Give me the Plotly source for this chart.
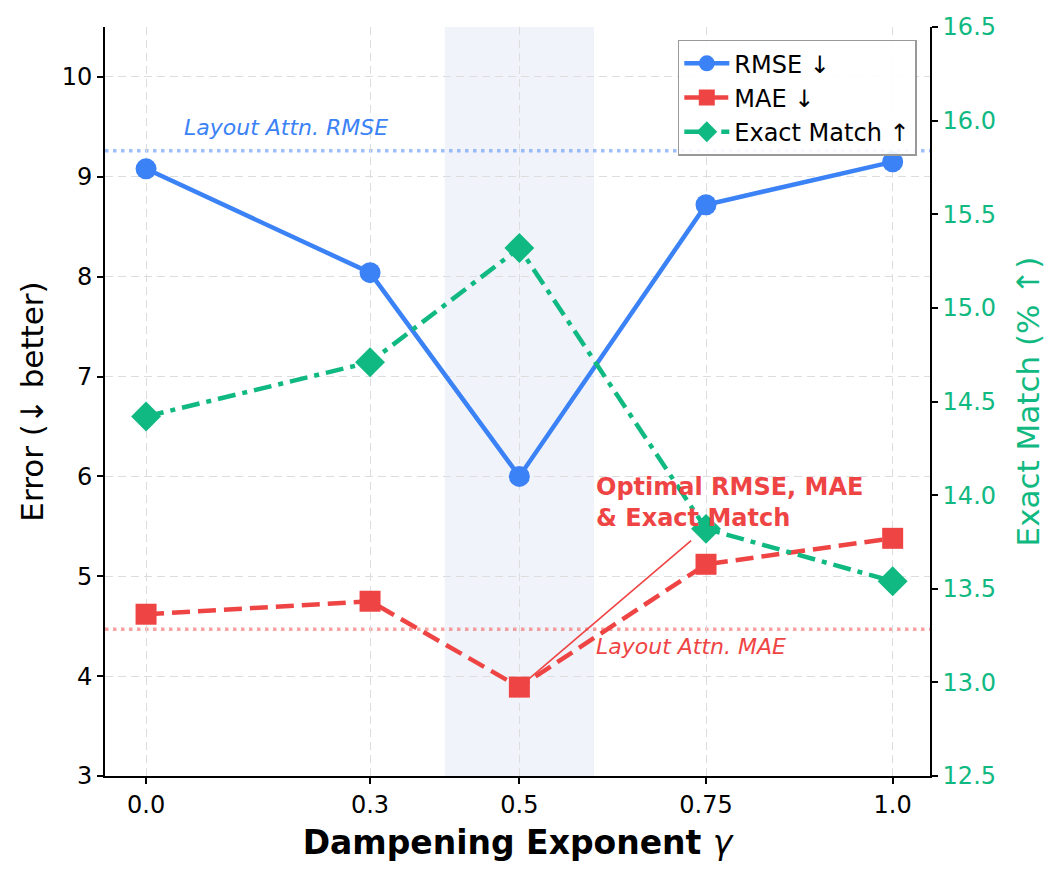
import plotly.graph_objects as go

gamma = [0.0, 0.3, 0.5, 0.75, 1.0]
gamma_labels = ["0.0", "0.3", "0.5", "0.75", "1.0"]
rmse = [9.08, 8.04, 6.00, 8.72, 9.15]
mae = [4.62, 4.75, 3.89, 5.12, 5.38]
exact_match = [14.42, 14.71, 15.32, 13.82, 13.54]
layout_rmse = 9.26
layout_mae = 4.47
left_ticks = [3, 4, 5, 6, 7, 8, 9, 10]
right_ticks = [12.5, 13.0, 13.5, 14.0, 14.5, 15.0, 15.5, 16.0, 16.5]

BLUE = "#3b82f6"
RED = "#ef4444"
GREEN = "#10b981"
FONT = "DejaVu Sans"
GRID = "#dddddd"

fig = go.Figure()

fig.add_trace(go.Scatter(
    x=gamma, y=rmse, name="RMSE ↓", mode="lines+markers",
    line=dict(color=BLUE, width=4.5),
    marker=dict(symbol="circle", size=21, color=BLUE),
))
fig.add_trace(go.Scatter(
    x=gamma, y=mae, name="MAE ↓", mode="lines+markers",
    line=dict(color=RED, width=4.5, dash="18px,8px"),
    marker=dict(symbol="square", size=21, color=RED),
))
fig.add_trace(go.Scatter(
    x=gamma, y=exact_match, name="Exact Match ↑", mode="lines+markers",
    line=dict(color=GREEN, width=4.5, dash="18px,7px,5px,7px"),
    marker=dict(symbol="diamond", size=23, color=GREEN),
    yaxis="y2",
))

# shaded optimal region
fig.add_vrect(x0=0.4, x1=0.6, fillcolor="#f0f4fa", line_width=0, layer="below")

# reference lines
fig.add_shape(type="line", xref="paper", x0=0, x1=1, yref="y", y0=layout_rmse, y1=layout_rmse,
              line=dict(color="rgba(59,130,246,0.5)", width=3.5, dash="3.5px,4.5px"), layer="below")
fig.add_shape(type="line", xref="paper", x0=0, x1=1, yref="y", y0=layout_mae, y1=layout_mae,
              line=dict(color="rgba(239,68,68,0.5)", width=3.5, dash="3.5px,4.5px"), layer="below")

fig.add_annotation(x=0.048, y=layout_rmse + 0.23, xref="x", yref="y", text="<i>Layout Attn. RMSE</i>",
                   showarrow=False, xanchor="left", yanchor="middle",
                   font=dict(family=FONT, size=22, color=BLUE))
fig.add_annotation(x=0.6, y=layout_mae - 0.17, xref="x", yref="y", text="<i>Layout Attn. MAE</i>",
                   showarrow=False, xanchor="left", yanchor="middle",
                   font=dict(family=FONT, size=22, color=RED))

# arrow to optimal point
fig.add_annotation(x=gamma[2], y=mae[2], xref="x", yref="y",
                   ax=0.732, ay=5.37, axref="x", ayref="y",
                   text="", showarrow=True, arrowhead=0, arrowwidth=1.6, arrowcolor=RED,
                   standoff=11)
fig.add_annotation(x=0.6, y=5.74, xref="x", yref="y",
                   text="<b>Optimal RMSE, MAE<br>& Exact Match</b>",
                   showarrow=False, xanchor="left", yanchor="middle", align="left",
                   font=dict(family=FONT, size=24, color=RED))

fig.update_layout(
    width=1064, height=881,
    margin=dict(l=105, r=134, t=27, b=105),
    paper_bgcolor="white", plot_bgcolor="white",
    font=dict(family=FONT, size=24, color="black"),
    showlegend=True,
    legend=dict(x=0.984, y=0.983, xanchor="right", yanchor="top",
                bgcolor="rgba(255,255,255,0.9)", bordercolor="#999999", borderwidth=1.5,
                font=dict(family=FONT, size=24), tracegroupgap=0, itemwidth=45),
    xaxis=dict(
        range=[-0.055, 1.05], tickmode="array", tickvals=gamma, ticktext=gamma_labels,
        showgrid=True, gridcolor=GRID, griddash="8px,5px", gridwidth=1.3,
        showline=True, linecolor="black", linewidth=1.6, mirror=False,
        ticks="outside", ticklen=6, tickcolor="black", tickwidth=1.6,
        tickfont=dict(size=24), zeroline=False,
        title=dict(text="<b>Dampening Exponent </b><i>γ</i>", font=dict(size=33), standoff=13),
    ),
    yaxis=dict(
        range=[3, 10.5], tickmode="array", tickvals=left_ticks,
        showgrid=True, gridcolor=GRID, griddash="8px,5px", gridwidth=1.3,
        showline=True, linecolor="black", linewidth=1.6,
        ticks="outside", ticklen=6, tickcolor="black", tickwidth=1.6,
        tickfont=dict(size=24), zeroline=False,
        title=dict(text="Error (↓ better)", font=dict(size=31), standoff=9),
    ),
    yaxis2=dict(
        range=[12.5, 16.5], overlaying="y", side="right", tickmode="array",
        tickvals=right_ticks, ticktext=[f"{v:.1f}" for v in right_ticks],
        showgrid=False, showline=True, linecolor="black", linewidth=1.6,
        ticks="outside", ticklen=6, tickcolor="black", tickwidth=1.6,
        tickfont=dict(size=24, color=GREEN), zeroline=False,
        title=dict(text="Exact Match (% ↑)", font=dict(size=31, color=GREEN), standoff=22),
    ),
)

fig.write_html("out.html")
